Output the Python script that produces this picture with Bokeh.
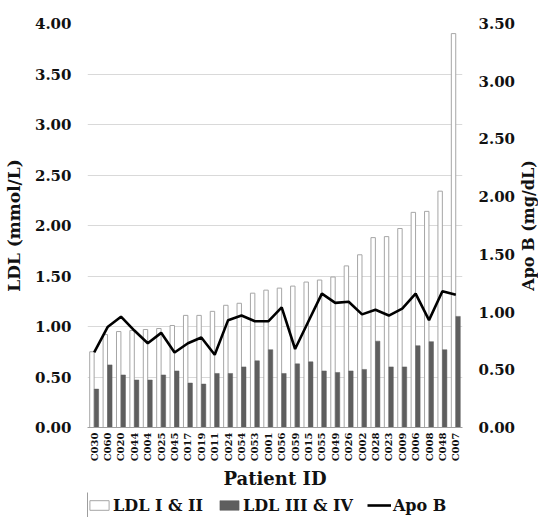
import math
from bokeh.plotting import figure
from bokeh.layouts import gridplot
from bokeh.models import (FactorRange, Range1d, LinearAxis, FixedTicker, NumeralTickFormatter,
                          Legend, LegendItem, Label, ColumnDataSource)
from bokeh.transform import dodge
from bokeh.embed import file_html
from bokeh.resources import INLINE

patients = ["C030", "C060", "C020", "C044", "C004", "C025", "C045", "C017", "C019", "C011",
            "C024", "C054", "C053", "C001", "C056", "C059", "C015", "C055", "C049", "C026",
            "C002", "C028", "C023", "C009", "C006", "C008", "C048", "C007"]
ldl_1_2 = [0.75, 0.92, 0.95, 0.96, 0.97, 0.98, 1.01, 1.11, 1.11, 1.15, 1.21, 1.23, 1.33, 1.36,
           1.38, 1.40, 1.44, 1.46, 1.49, 1.60, 1.71, 1.88, 1.89, 1.97, 2.13, 2.14, 2.34, 3.90]
ldl_3_4 = [0.38, 0.62, 0.52, 0.47, 0.47, 0.52, 0.56, 0.44, 0.43, 0.535, 0.535, 0.60, 0.66, 0.77,
           0.535, 0.63, 0.65, 0.56, 0.545, 0.56, 0.575, 0.855, 0.60, 0.60, 0.81, 0.85, 0.77, 1.10]
apo_b = [0.65, 0.87, 0.96, 0.84, 0.73, 0.82, 0.65, 0.73, 0.78, 0.63, 0.93, 0.97, 0.92, 0.92,
         1.04, 0.68, 0.92, 1.16, 1.08, 1.09, 0.98, 1.02, 0.97, 1.03, 1.16, 0.93, 1.18, 1.15]
left_ticks = [0.0, 0.5, 1.0, 1.5, 2.0, 2.5, 3.0, 3.5, 4.0]
right_ticks = [0.0, 0.5, 1.0, 1.5, 2.0, 2.5, 3.0, 3.5]
legend_labels = ["LDL I & II", "LDL III & IV", "Apo B"]
right_title = "Apo B (mg/dL)"

FONT = "DejaVu Serif"
TXT = "#111111"
LIGHT_LINE = "#a6a6a6"
DARK = "#5e5e5e"

src = ColumnDataSource(dict(pid=patients, a=ldl_1_2, b=ldl_3_4, apo=apo_b))

p = figure(x_range=FactorRange(*patients, range_padding=0), y_range=Range1d(0, 4),
           width=518, height=492, output_backend="svg", toolbar_location=None,
           min_border_left=80, min_border_right=56, min_border_top=23, min_border_bottom=64)
p.extra_y_ranges = {"apo": Range1d(0, 3.5)}
p.outline_line_color = None
p.xgrid.visible = False
p.ygrid.grid_line_color = "#d9d9d9"
p.ygrid.grid_line_width = 1

r1 = p.vbar(x=dodge("pid", -0.17, range=p.x_range), top="a", width=0.33, source=src,
            fill_color="white", line_color=LIGHT_LINE, line_width=1)
r2 = p.vbar(x=dodge("pid", 0.17, range=p.x_range), top="b", width=0.33, source=src,
            fill_color=DARK, line_color=DARK, line_width=0.5)
r3 = p.line(x="pid", y="apo", source=src, y_range_name="apo", line_color="black", line_width=2.6)

right_axis = LinearAxis(y_range_name="apo")
p.add_layout(right_axis, "right")

p.yaxis[0].ticker = FixedTicker(ticks=left_ticks)
right_axis.ticker = FixedTicker(ticks=right_ticks)
for ax in p.yaxis:
    ax.formatter = NumeralTickFormatter(format="0.00")
    ax.axis_line_color = None
    ax.major_tick_line_color = None
    ax.minor_tick_line_color = None
    ax.major_tick_out = 0
    ax.major_tick_in = 0
    ax.minor_tick_out = 0
    ax.major_label_text_font = FONT
    ax.major_label_text_font_style = "bold"
    ax.major_label_text_font_size = "15px"
    ax.major_label_text_color = TXT
    ax.axis_label_text_font = FONT
    ax.axis_label_text_font_style = "bold"
    ax.axis_label_text_font_size = "17px"
    ax.axis_label_text_color = TXT

p.yaxis[0].axis_label = "LDL (mmol/L)"
p.yaxis[0].major_label_standoff = 16
p.yaxis[0].axis_label_standoff = 8
right_axis.major_label_standoff = 16

xa = p.xaxis[0]
xa.axis_label = "Patient ID"
xa.axis_label_text_font = FONT
xa.axis_label_text_font_style = "bold"
xa.axis_label_text_font_size = "18px"
xa.axis_label_text_color = TXT
xa.axis_label_standoff = 4
xa.axis_line_color = "#a0a0a0"
xa.axis_line_width = 1
xa.major_tick_line_color = None
xa.major_tick_out = 0
xa.major_tick_in = 0
xa.major_label_orientation = math.pi / 2
xa.major_label_standoff = 5
xa.major_label_text_font = FONT
xa.major_label_text_font_style = "bold"
xa.major_label_text_font_size = "10px"
xa.major_label_text_color = TXT

# narrow strip holding the right axis title (reads bottom to top)
tf = figure(width=20, height=492, output_backend="svg", toolbar_location=None,
            x_range=Range1d(0, 1), y_range=Range1d(0, 1),
            x_axis_location=None, y_axis_location=None,
            min_border_left=0, min_border_right=0, min_border_top=23, min_border_bottom=64)
tf.grid.visible = False
tf.outline_line_color = None
tf.add_layout(Label(x=0.5, y=0.5, text=right_title, angle=math.pi / 2,
                    text_align="center", text_baseline="middle",
                    text_font=FONT, text_font_style="bold", text_font_size="16px",
                    text_color=TXT))

# legend strip: swatch glyphs sit outside the visible range, only the legend shows
lf = figure(width=518, height=25, output_backend="svg", toolbar_location=None,
            x_range=Range1d(0, 1), y_range=Range1d(0, 1),
            x_axis_location=None, y_axis_location=None,
            min_border_left=0, min_border_right=0, min_border_top=0, min_border_bottom=0)
lf.grid.visible = False
lf.outline_line_color = None
s1 = lf.vbar(x=[-5], top=[1], width=0.1, fill_color="white", line_color=LIGHT_LINE, line_width=1)
s2 = lf.vbar(x=[-5], top=[1], width=0.1, fill_color=DARK, line_color=DARK, line_width=0.5)
s3 = lf.line(x=[-5, -4], y=[-5, -5], line_color="black", line_width=2.6)
legend = Legend(items=[LegendItem(label=legend_labels[0], renderers=[s1]),
                       LegendItem(label=legend_labels[1], renderers=[s2]),
                       LegendItem(label=legend_labels[2], renderers=[s3])],
                orientation="horizontal", location=(0, 2),
                glyph_width=24, glyph_height=12, label_height=20, label_standoff=2, spacing=14,
                padding=0, margin=0, border_line_color=None, background_fill_alpha=0,
                label_text_font=FONT, label_text_font_style="bold",
                label_text_font_size="16px", label_text_color=TXT)
lf.add_layout(legend, "center")

layout = gridplot([[p, tf], [lf, None]], toolbar_location=None)
open("out.html", "w").write(file_html(layout, INLINE))
